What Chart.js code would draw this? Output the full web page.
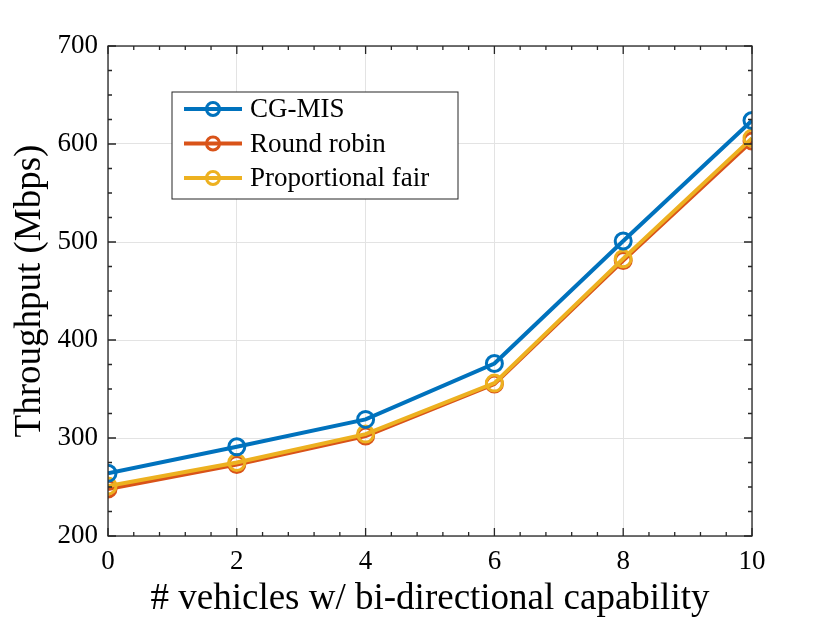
<!DOCTYPE html>
<html>
<head>
<meta charset="utf-8">
<script src="https://cdn.jsdelivr.net/npm/chart.js@4"></script>
<style>
  body { margin: 0; background: #fff; }
  #wrap { width: 830px; height: 623px; }
</style>
</head>
<body>
<div id="wrap"><canvas id="thrChart" width="830" height="623"></canvas></div>
<script>
// values
const vehicles = [0, 2, 4, 6, 8, 10];
const cgMis = [264, 291, 319, 376, 501, 624];
const roundRobin = [248, 273, 302, 355, 481, 603];
const propFair = [251, 275, 304, 356, 483, 606];
const yTicks = [200, 300, 400, 500, 600, 700];
const xTicks = [0, 2, 4, 6, 8, 10];

const serif = '"Liberation Serif", "DejaVu Serif", serif';

function pts(ys) {
    return vehicles.map((v, i) => ({ x: v, y: ys[i] }));
}

// frame, inward ticks and legend like the matlab figure
const framePlugin = {
    id: 'frame',
    afterDatasetsDraw(chart) {
        const ctx = chart.ctx;
        const a = chart.chartArea;
        const xs = chart.scales.x, ys = chart.scales.y;
        ctx.save();
        ctx.strokeStyle = '#262626';
        ctx.lineWidth = 1.3;
        ctx.strokeRect(a.left, a.top, a.right - a.left, a.bottom - a.top);

        // x ticks (major 2, minor 0.4)
        for (let v = 0; v <= 10.001; v += 0.4) {
            const px = xs.getPixelForValue(v);
            const major = Math.abs(v / 2 - Math.round(v / 2)) < 0.01;
            const len = major ? 8 : 4;
            ctx.beginPath();
            ctx.moveTo(px, a.bottom); ctx.lineTo(px, a.bottom - len);
            ctx.moveTo(px, a.top); ctx.lineTo(px, a.top + len);
            ctx.stroke();
        }
        // y ticks (major 100, minor 25)
        for (let v = 200; v <= 700; v += 25) {
            const py = ys.getPixelForValue(v);
            const len = v % 100 === 0 ? 8 : 4;
            ctx.beginPath();
            ctx.moveTo(a.left, py); ctx.lineTo(a.left + len, py);
            ctx.moveTo(a.right, py); ctx.lineTo(a.right - len, py);
            ctx.stroke();
        }

        // legend box
        const bx = 172, by = 92, bw = 286, bh = 107;
        ctx.fillStyle = '#fff';
        ctx.fillRect(bx, by, bw, bh);
        ctx.strokeStyle = '#262626';
        ctx.lineWidth = 1;
        ctx.strokeRect(bx, by, bw, bh);
        ctx.font = '27px ' + serif;
        ctx.textBaseline = 'middle';
        chart.data.datasets.forEach((ds, i) => {
            const cy = by + 17 + i * 34.5;
            ctx.strokeStyle = ds.borderColor;
            ctx.lineWidth = 4;
            ctx.beginPath();
            ctx.moveTo(bx + 12, cy); ctx.lineTo(bx + 70, cy);
            ctx.stroke();
            ctx.lineWidth = 3;
            ctx.beginPath();
            ctx.arc(bx + 41, cy, 6.5, 0, Math.PI * 2);
            ctx.stroke();
            ctx.fillStyle = '#000';
            ctx.fillText(ds.label, bx + 78, cy + 1);
        });
        ctx.restore();
    }
};

function makeSet(label, ys, color, order) {
    return {
        label: label,
        data: pts(ys),
        borderColor: color,
        backgroundColor: color,
        borderWidth: 4,
        pointRadius: 8,
        pointBorderWidth: 3,
        pointBackgroundColor: 'rgba(0,0,0,0)',
        pointBorderColor: color,
        tension: 0,
        fill: false,
        order: order
    };
}

const ctx = document.getElementById('thrChart').getContext('2d');
new Chart(ctx, {
    type: 'line',
    data: {
        datasets: [
            makeSet('CG-MIS', cgMis, '#0072BD', 0),
            makeSet('Round robin', roundRobin, '#D95319', 2),
            makeSet('Proportional fair', propFair, '#EDB120', 1)
        ]
    },
    options: {
        responsive: false,
        animation: false,
        layout: { padding: { left: 0, top: 46, right: 78, bottom: 0 } },
        plugins: {
            legend: { display: false },
            tooltip: { enabled: false }
        },
        scales: {
            x: {
                type: 'linear',
                min: 0, max: 10,
                afterBuildTicks: s => { s.ticks = xTicks.map(v => ({ value: v })); },
                afterFit: s => { s.height = 87; },
                border: { display: false },
                grid: { color: '#e3e3e3', lineWidth: 1, drawTicks: false },
                ticks: { color: '#000', padding: 10, font: { family: serif, size: 27 } },
                title: {
                    display: true,
                    text: '# vehicles w/ bi-directional capability',
                    color: '#000',
                    padding: { top: 2, bottom: 2 },
                    font: { family: serif, size: 37 }
                }
            },
            y: {
                min: 200, max: 700,
                afterBuildTicks: s => { s.ticks = yTicks.map(v => ({ value: v })); },
                afterFit: s => { s.width = 108; },
                border: { display: false },
                grid: { color: '#e3e3e3', lineWidth: 1, drawTicks: false },
                ticks: { color: '#000', padding: 10, font: { family: serif, size: 27 } },
                title: {
                    display: true,
                    text: 'Throughput (Mbps)',
                    color: '#000',
                    padding: 8,
                    font: { family: serif, size: 37 }
                }
            }
        }
    },
    plugins: [framePlugin]
});
</script>
</body>
</html>
